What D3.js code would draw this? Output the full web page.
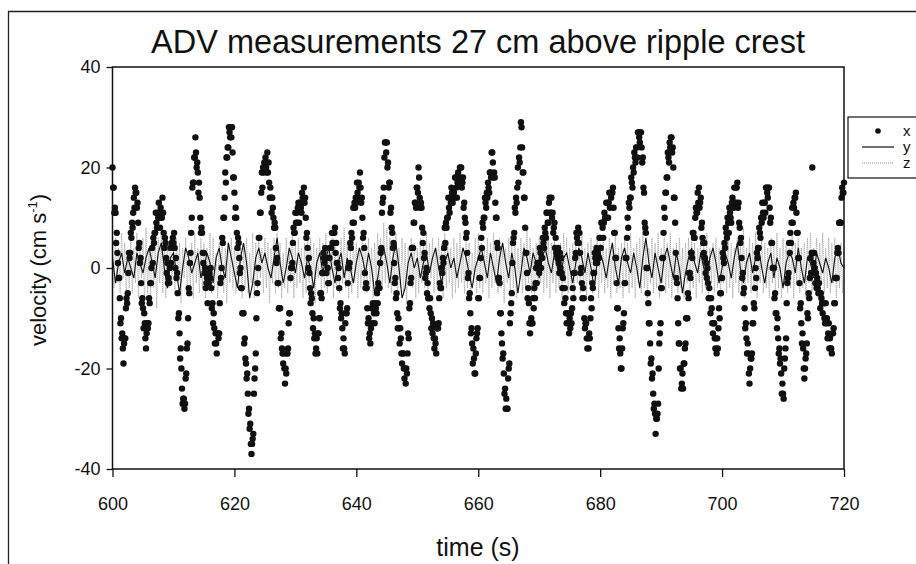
<!DOCTYPE html>
<html><head><meta charset="utf-8">
<script src="https://cdn.jsdelivr.net/npm/d3@7"></script>
<style>body{margin:0;background:#fff} svg{display:block} text{font-family:"Liberation Sans",Arial,sans-serif;fill:#111}</style>
</head><body><svg id="c" width="916" height="564"></svg>
<script>
// ---- data ----
const xTicks = [600, 620, 640, 660, 680, 700, 720];
const yTicks = [-40, -20, 0, 20, 40];
const seriesNames = ["x", "y", "z"];
// x velocity (cm/s), one value every 0.1 s from 600 s (one row = 1 s)
const xStart = 600, xStep = 0.1;
const xVel = [
20,16,16,11,12,11,5,7,3,1,
-2,-2,-6,-11,-10,-14,-13,-16,-19,-15,
-14,-14,-8,-6,-7,-5,-1,3,2,3,
7,6,9,8,11,14,12,16,15,15,
12,13,9,4,5,1,2,-3,-7,-6,
-8,-12,-9,-11,-14,-16,-13,-11,-12,-11,
-6,-7,-3,-3,0,4,1,6,5,7,
7,11,9,8,11,10,13,10,8,12,
11,10,14,11,7,4,6,5,2,-1,
1,-3,-2,-3,0,4,1,5,4,6,
5,7,4,0,2,-2,-1,-5,-10,-9,
-13,-18,-16,-20,-24,-27,-26,-26,-28,-27,
-22,-21,-16,-15,-10,-4,-5,1,3,7,
10,16,17,17,22,22,26,23,20,21,
19,15,17,14,10,7,8,7,3,1,
3,-1,0,-4,-3,-2,-7,-2,-3,-1,
-2,0,-4,-8,-7,-11,-9,-12,-15,-13,
-15,-17,-13,-13,-14,-13,-7,-3,-2,0,
6,5,10,10,14,19,17,22,22,24,
24,28,27,26,28,26,28,23,18,18,
15,10,12,10,7,4,6,5,2,-1,
0,-4,-4,-9,-9,-9,-15,-14,-18,-19,
-22,-21,-25,-29,-28,-32,-31,-35,-37,-35,
-34,-33,-25,-22,-20,-17,-10,-5,-3,0,
6,6,11,11,15,19,16,20,19,21,
20,22,20,19,23,19,21,17,14,16,
14,11,14,12,10,8,9,8,4,1,
2,-3,-3,-8,-8,-8,-14,-13,-16,-17,
-19,-17,-20,-23,-20,-21,-17,-17,-16,-11,
-9,-9,-2,0,0,1,5,8,7,7,
11,9,11,9,12,13,9,13,12,12,
11,15,14,13,16,13,14,10,6,7,
4,0,2,-1,-4,-7,-5,-6,-9,-12,
-10,-14,-13,-17,-16,-14,-17,-13,-13,-10,
-10,-5,-5,-6,-1,-1,3,2,1,4,
2,-1,2,0,-3,-3,2,4,4,4,
7,5,7,5,7,8,3,5,1,1,
-2,0,-4,-8,-7,-10,-9,-12,-16,-14,
-16,-17,-11,-9,-9,-8,-3,0,0,1,
5,4,7,6,9,12,9,13,12,14,
13,17,15,14,17,16,19,16,13,14,
10,6,7,4,-1,-4,-3,-4,-8,-11,
-10,-14,-13,-15,-12,-8,-11,-7,-8,-9,
-11,-7,-8,-9,-5,-7,-3,-4,-4,1,
3,4,11,13,14,16,22,25,25,23,
25,20,21,16,17,17,11,12,8,7,
4,5,1,-3,-2,-6,-5,-9,-12,-10,
-12,-15,-12,-14,-17,-19,-17,-17,-20,-22,
-20,-23,-20,-21,-17,-13,-14,-8,-7,-3,
-2,4,4,4,9,9,13,13,12,16,
16,15,20,18,14,12,13,12,8,5,
7,2,3,-2,-1,0,-5,-3,-6,-6,
-8,-6,-9,-12,-10,-13,-11,-14,-16,-14,
-15,-17,-12,-12,-12,-11,-6,-3,-4,-4,
0,-1,2,1,4,8,5,9,8,10,
10,14,12,11,14,13,16,15,13,15,
15,14,18,18,16,14,17,19,17,17,
20,18,20,16,17,18,12,13,10,9,
6,7,3,-2,-1,-6,-5,-9,-13,-12,
-15,-19,-16,-18,-21,-21,-17,-14,-13,-12,
-6,-6,-2,-2,2,6,4,9,8,10,
10,14,13,12,15,14,17,16,15,19,
19,18,23,23,21,18,19,18,13,10,
10,5,4,-2,-2,-3,-9,-9,-13,-15,
-18,-17,-21,-25,-24,-28,-26,-28,-28,-22,
-20,-19,-11,-9,-7,-5,1,5,6,7,
12,11,14,13,16,20,17,22,21,24,
29,28,24,19,19,14,14,8,3,3,
-1,-6,-4,-7,-11,-13,-11,-10,-11,-11,
-6,-8,-4,-6,-3,0,-3,1,1,1,
-1,4,3,0,2,2,6,5,4,8,
7,6,11,11,9,9,13,14,11,11,
14,10,11,7,8,9,4,6,3,3,
2,4,1,-1,3,0,2,-1,-4,-2,
-4,-7,-4,-6,-9,-11,-9,-9,-11,-13,
-10,-12,-9,-11,-8,-4,-6,-1,-1,2,
3,7,6,5,8,5,7,3,-1,0,
-3,-6,-4,-6,-10,-12,-11,-11,-14,-16,
-14,-16,-13,-14,-10,-6,-8,-3,-4,-1,
-1,3,2,1,4,1,3,2,2,6,
6,4,9,9,8,6,9,11,10,10,
13,10,13,10,13,15,12,15,14,15,
15,16,12,7,7,2,2,-3,-8,-8,
-12,-16,-14,-17,-20,-20,-16,-12,-11,-9,
-3,-3,2,2,6,10,8,13,12,14,
14,18,17,16,20,19,23,22,21,24,
24,22,27,27,26,25,27,27,24,21,
22,16,15,9,8,7,0,0,-5,-7,
-11,-11,-15,-19,-18,-22,-21,-25,-28,-27,
-29,-33,-30,-30,-29,-27,-20,-15,-13,-11,
-4,-4,2,2,7,12,10,15,15,18,
18,23,22,21,25,24,26,26,23,24,
20,14,14,9,3,-2,-3,-6,-11,-15,
-15,-20,-20,-24,-23,-21,-24,-19,-19,-16,
-15,-10,-10,-10,-5,-6,-1,-1,-2,3,
3,2,7,7,6,6,10,12,11,11,
15,13,16,12,13,14,8,9,6,5,
3,5,2,-1,1,-2,0,-3,-6,-4,
-6,-9,-6,-8,-11,-13,-11,-11,-14,-16,
-14,-17,-14,-16,-12,-8,-10,-5,-5,-2,
-2,3,2,1,5,4,8,7,6,10,
9,7,12,11,10,9,13,14,13,12,
16,13,16,13,16,17,12,13,9,8,
5,6,2,-2,-1,-5,-4,-8,-12,-11,
-14,-17,-15,-17,-21,-23,-20,-18,-18,-17,
-11,-11,-7,-8,-4,0,-2,3,2,4,
4,8,7,6,10,9,13,11,10,13,
13,11,16,16,15,14,16,16,12,9,
10,5,5,0,0,0,-6,-5,-9,-9,
-12,-10,-14,-17,-16,-19,-18,-21,-25,-23,
-25,-26,-20,-18,-16,-14,-7,-3,-2,-1,
5,3,7,5,9,12,9,13,12,14,
14,15,11,7,7,2,2,-3,-8,-7,
-11,-15,-13,-16,-20,-22,-20,-18,-17,-15,
-9,-10,-5,-6,-2,2,-1,3,20,3,
1,3,0,-3,-1,-4,-2,-4,-5,-3,
-5,-8,-5,-6,-7,-9,-7,-7,-10,-11,
-7,-11,-10,-14,-13,-11,-16,-14,-16,-16,
-17,-13,-13,-12,-7,-7,-2,-2,-2,3,
4,3,9,9,9,9,14,16,15,15,
17
];
// y velocity, one value every 0.5 s from 600 s
const yStart = 600, yStep = 0.5;
const yVel = [
2,-3,1,3,-1,2,0,-2,3,1, -1,2,4,1,-2,3,5,0,-4,2, 3,-1,-5,0,4,2,-1,1,3,-2, 0,3,1,-3,2,4,0,-2,5,2,
-1,-4,2,5,1,-6,-3,2,4,1, 3,0,-2,2,6,1,-3,0,4,2, -1,3,1,-2,2,0,-4,1,3,-1, 2,4,0,-3,1,3,-2,2,0,-3,
1,4,2,-1,3,0,-5,-2,2,4, 1,-3,2,5,0,-6,-4,1,3,0, 2,-2,1,3,-1,2,4,0,-3,1, 3,0,2,-2,1,4,2,-1,-4,0,
2,4,1,-2,3,0,-3,2,5,1, -2,3,0,-5,-1,4,2,-1,3,1, -2,2,4,1,-1,3,0,-2,2,3, 0,-3,1,4,2,-1,3,0,-4,1,
3,1,-2,2,5,0,-3,2,4,1, -1,3,0,-4,2,6,1,-2,3,0, -3,2,4,1,-2,3,0,-5,-1,2, 4,1,-1,3,0,-2,2,4,1,-3,
0,3,1,-2,2,5,0,-3,1,3, -1,2,4,0,-3,1,3,-2,2,0, -4,1,3,2,-1,4,0,-3,2,1, -2,3,1,-1,2,0,-3,2,4,1,
0
];
// z velocity, one value every 0.25 s from 600 s
const zStart = 600, zStep = 0.25;
const zVel = [
5,-4,6,-3,4,-5,7,-2,5,-6,3,-4,6,-5,4,-3,7,-6,5,-2,
6,-7,8,-5,4,-6,7,-4,5,-8,6,-3,7,-5,4,-6,5,-4,6,-3,
4,-5,6,-3,5,-7,4,-2,6,-5,3,-4,5,-6,7,-3,4,-5,6,-4,
5,-6,4,-3,7,-5,6,-4,3,-6,5,-2,6,-5,4,-7,5,-3,6,-4,
4,-5,7,-3,5,-6,4,-4,6,-5,3,-3,7,-6,5,-4,6,-2,4,-5,
6,-4,5,-7,4,-3,6,-5,7,-4,5,-6,3,-4,6,-5,4,-3,7,-6,
5,-4,6,-3,4,-6,5,-5,7,-3,6,-4,5,-7,4,-2,6,-5,5,-4,
7,-5,4,-3,6,-6,5,-4,3,-5,6,-3,8,-4,5,-6,4,-5,6,-3,
5,-6,4,-4,7,-3,5,-5,6,-4,4,-6,5,-3,7,-5,6,-4,9,-3,
8,-4,6,-5,5,-3,7,-6,4,-4,6,-5,5,-7,4,-3,6,-4,5,-6,
4,-5,6,-3,5,-4,7,-6,5,-2,6,-5,4,-4,6,-3,5,-6,7,-4,
5,-3,4,-6,6,-5,5,-4,7,-3,4,-5,6,-4,5,-6,3,-3,6,-5,
7,-4,5,-5,4,-3,6,-6,5,-4,7,-3,4,-5,6,-4,5,-7,4,-3,
6,-5,5,-4,7,-6,4,-3,6,-5,5,-4,8,-3,6,-5,4,-6,5,-4,
6,-3,5,-5,4,-4,7,-6,5,-3,6,-5,4,-4,5,-6,7,-3,6,-5,
4,-4,5,-6,6,-3,5,-5,7,-4,4,-6,5,-3,6,-5,4,-4,7,-6,
5,-3,6,-5,4,-4,6,-6,5,-3,7,-5,4,-4,5,-6,6,-3,5,-5,
7,-4,4,-6,5,-3,6,-5,8,-4,5,-6,4,-3,6,-5,5,-4,7,-6,
4,-3,6,-5,5,-4,7,-6,4,-3,5,-5,6,-4,4,-6,5,-3,6,-5,
7,-4,5,-6,4,-3,6,-5,5,-4,7,-6,4,-3,5,-5,6,-4,4,-6,
5,-3,6,-5,7,-4,5,-6,4,-3,6,-5,5,-4,8,-6,4,-3,6,-5,
5,-4,7,-6,4,-3,6,-5,5,-4,4,-6,6,-3,5,-5,7,-4,4,-6,
6,-3,5,-5,4,-4,7,-6,5,-3,6,-5,4,-4,5,-6,6,-3,7,-5,
4,-4,6,-6,5,-3,7,-5,4,-4,6,-5,5,-3,6,-6,4,-4,5,-5,
4
];

// ---- drawing ----
const svg = d3.select("#c");
const x = d3.scaleLinear().domain([600, 720]).range([112.5, 844]);
const y = d3.scaleLinear().domain([-40, 40]).range([469, 67]);
const font = '"Liberation Sans", Arial, sans-serif';
const fmt = d => String(d);

// outer figure frame
svg.append("path").attr("d", "M8.5,564 L8.5,11.5 L916,11.5")
  .attr("fill", "none").attr("stroke", "#222").attr("stroke-width", 1.3);

// title
svg.append("text").attr("x", 478).attr("y", 53).attr("text-anchor", "middle")
  .attr("font-size", 32.5).text("ADV measurements 27 cm above ripple crest");

const xPts = xVel.map((v, i) => [xStart + i * xStep, v]);
const yPts = yVel.map((v, i) => [yStart + i * yStep, v]);
const zPts = zVel.map((v, i) => [zStart + i * zStep, v]);

const line = d3.line().x(d => x(d[0])).y(d => y(d[1]));

// z: grey dotted
svg.append("path").datum(zPts).attr("d", line).attr("fill", "none")
  .attr("stroke", "#a8a8a8").attr("stroke-width", 1).attr("stroke-dasharray", "1,1");

// x: dots
svg.append("g").selectAll("circle").data(xPts).join("circle")
  .attr("cx", d => x(d[0])).attr("cy", d => y(d[1])).attr("r", 3.2).attr("fill", "#111");

// y: solid line
svg.append("path").datum(yPts).attr("d", line).attr("fill", "none")
  .attr("stroke", "#111").attr("stroke-width", 1.1);

// plot box
svg.append("rect").attr("x", 112.5).attr("y", 67).attr("width", 844 - 112.5).attr("height", 469 - 67)
  .attr("fill", "none").attr("stroke", "#111").attr("stroke-width", 1.5);

// axes
const gx = svg.append("g").attr("transform", "translate(0,469)")
  .call(d3.axisBottom(x).tickValues(xTicks).tickSize(8).tickPadding(20).tickFormat(fmt));
gx.select(".domain").remove();
gx.selectAll("text").attr("font-size", 18).attr("font-family", font).attr("fill", "#111");
gx.selectAll("line").attr("stroke", "#111").attr("stroke-width", 1.3);

const gy = svg.append("g").attr("transform", "translate(112.5,0)")
  .call(d3.axisLeft(y).tickValues(yTicks).tickSize(6).tickPadding(6).tickFormat(fmt));
gy.select(".domain").remove();
gy.selectAll("text").attr("font-size", 18).attr("font-family", font).attr("fill", "#111");
gy.selectAll("line").attr("stroke", "#111").attr("stroke-width", 1.3);

// axis titles
svg.append("text").attr("x", 478).attr("y", 556).attr("text-anchor", "middle")
  .attr("font-size", 25).text("time (s)");
const yl = svg.append("text").attr("transform", "translate(46,270) rotate(-90)")
  .attr("text-anchor", "middle").attr("font-size", 22);
yl.append("tspan").text("velocity (cm s");
yl.append("tspan").attr("font-size", 13).attr("dy", -9).text("-1");
yl.append("tspan").attr("dy", 9).text(")");

// legend
const lg = svg.append("g");
lg.append("rect").attr("x", 848).attr("y", 117).attr("width", 90).attr("height", 61)
  .attr("fill", "#fff").attr("stroke", "#111").attr("stroke-width", 1.2);
const ly = [131, 147, 163];
lg.append("circle").attr("cx", 878).attr("cy", ly[0]).attr("r", 2.8).attr("fill", "#111");
lg.append("line").attr("x1", 862).attr("x2", 894).attr("y1", ly[1]).attr("y2", ly[1])
  .attr("stroke", "#111").attr("stroke-width", 1.2);
lg.append("line").attr("x1", 862).attr("x2", 894).attr("y1", ly[2]).attr("y2", ly[2])
  .attr("stroke", "#888").attr("stroke-width", 1).attr("stroke-dasharray", "1,1");
seriesNames.forEach((n, i) => {
  lg.append("text").attr("x", 903).attr("y", ly[i] + 5).attr("font-size", 15).text(n);
});
</script></body></html>
